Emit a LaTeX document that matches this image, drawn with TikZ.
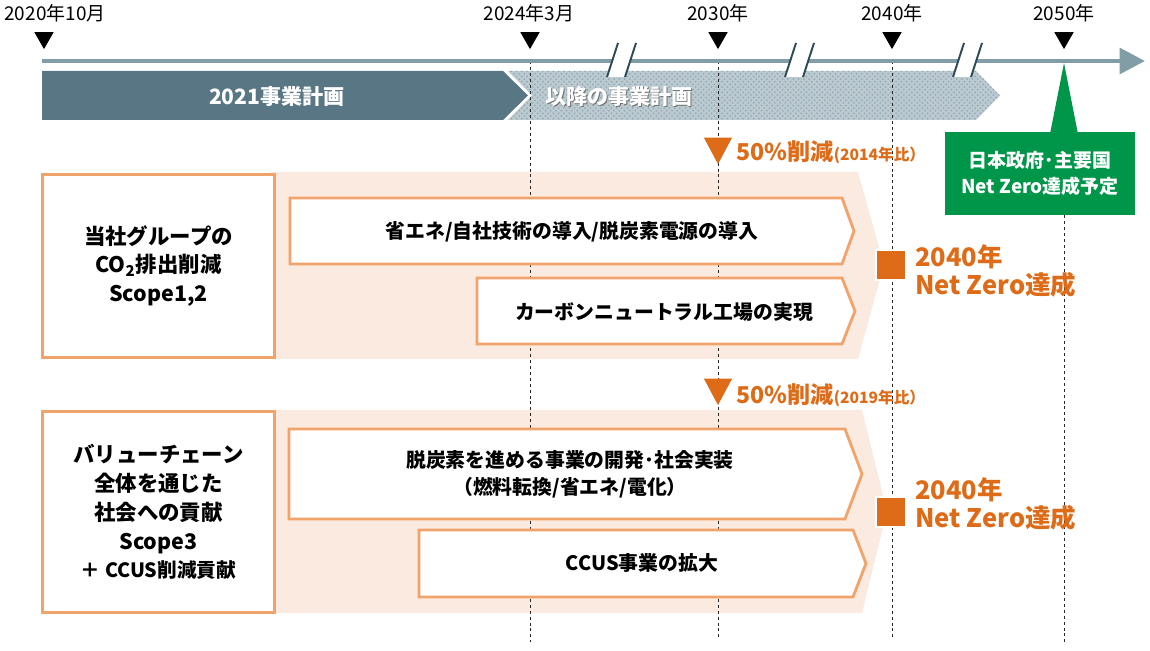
\documentclass[tikz,border=0pt]{standalone}
\usepackage{fontspec}
\setmainfont{Noto Sans CJK JP}
\usetikzlibrary{arrows.meta, positioning, shapes.geometric, patterns}
\definecolor{axisblue}{HTML}{819DA6}
\definecolor{plandark}{HTML}{587684}
\definecolor{planlight}{HTML}{BBCAD0}
\definecolor{plandots}{HTML}{8EA3AC}
\definecolor{breakline}{HTML}{2F4A57}
\definecolor{netorange}{HTML}{DD6B18}
\definecolor{boxedge}{HTML}{F1A36C}
\definecolor{peach}{HTML}{FBEADF}
\definecolor{govgreen}{HTML}{00964A}

\begin{document}
\begin{tikzpicture}[x=0.02cm, y=-0.02cm, line join=miter]
    \tikzstyle{yearmark}=[isosceles triangle, isosceles triangle stretches, shape border rotate=-90, fill=black, inner sep=0pt, minimum width=11pt, minimum height=9.6pt, anchor=apex]
    \tikzstyle{yearlabel}=[inner sep=0pt, font=\fontsize{10.8}{12}\selectfont]
    \tikzstyle{halfmark}=[isosceles triangle, isosceles triangle stretches, shape border rotate=-90, fill=netorange, inner sep=0pt, minimum width=16pt, minimum height=15pt, anchor=apex]
    \tikzstyle{halfcut}=[anchor=west, inner sep=0pt, text=netorange, font=\bfseries\fontsize{13.2}{15}\selectfont]
    \tikzstyle{netbox}=[fill=netorange, draw=white, line width=1.2pt, minimum size=17pt, inner sep=0pt]
    \tikzstyle{netzero}=[anchor=west, inner sep=0pt, align=left, text=netorange, font=\bfseries\fontsize{14.5}{16}\selectfont]
    \tikzstyle{band}=[fill=peach]
    \tikzstyle{chevron}=[draw=boxedge, fill=white, line width=1.6pt]
    \tikzstyle{scopebox}=[draw=boxedge, fill=white, line width=1.6pt, minimum width=4.64cm, align=center, font=\bfseries\fontsize{12.2}{16.4}\selectfont]
    \tikzstyle{action}=[align=center, font=\bfseries\fontsize{11.3}{15.3}\selectfont]
    \tikzstyle{dashline}=[black!85, line width=0.5pt, dash pattern=on 1.7pt off 1.7pt]

    \useasboundingbox (0,0) rectangle (1150,651);

    % peach backgrounds
    \fill[band] (270,172) -- (858,172) -- (884,265) -- (858,359) -- (270,359) -- cycle;
    \fill[band] (270,410) -- (862,410) -- (887,511) -- (862,613) -- (270,613) -- cycle;

    % plan bars
    \fill[planlight, postaction={pattern=crosshatch dots, pattern color=plandots}]
        (508,71) -- (976,71) -- (1000,95.5) -- (976,120) -- (508,120) -- (532,95.5) -- cycle;
    \fill[plandark] (42,71) -- (503,71) -- (528,95.5) -- (503,120) -- (42,120) -- cycle;
    \node[text=white, font=\bfseries\fontsize{12}{14}\selectfont] (p-1) at (277,97) {2021事業計画};
    \node[anchor=west, inner sep=0pt, text=black!55, font=\bfseries\fontsize{12}{14}\selectfont] at (546,98) {以降の事業計画};
    \node[anchor=west, inner sep=0pt, text=white, font=\bfseries\fontsize{12}{14}\selectfont] (p-2) at (545,97) {以降の事業計画};

    % time marks
    \foreach \x/\lx/\t [count=\i] in {44/55/2020年10月, 530/529/2024年3月, 718/718/2030年, 892/892/2040年, 1064/1064/2050年}{
        \node[yearmark] (m-\i) at (\x,50) {};
        \node[yearlabel] (y-\i) at (\lx,13) {\t};
    }
    \coordinate (t0) at (42,61);
    \coordinate (t1) at (1145,61);
    \foreach \i/\yb in {2/642, 3/637, 4/637}{
        \draw[dashline] (m-\i.apex |- t0) -- (m-\i.apex |- 0,\yb);
    }

    \draw[axisblue, line width=2.8pt, -{Triangle[length=14.5pt, width=14.5pt]}] (t0) -- (t1);
    \foreach \cx in {621, 799, 967}{
        \fill[white] (\cx-14,77) -- (\cx-3,43) -- (\cx+15,43) -- (\cx+4,77) -- cycle;
        \draw[breakline, line width=1.1pt] (\cx-14,77) -- (\cx-3,43);
        \draw[breakline, line width=1.1pt] (\cx+4,77) -- (\cx+15,43);
    }

    % government target
    \node[fill=govgreen, text=white, minimum width=3.8cm, minimum height=1.66cm, align=center, font=\bfseries\fontsize{10.8}{14.8}\selectfont] (gov) at (1040,173.5) {日本政府･主要国\\Net Zero達成予定};
    \coordinate (gov-tip) at (1064,63);
    \fill[govgreen] (gov-tip) -- (1050,134) -- (1078,134) -- cycle;
    \draw[dashline] (gov.south -| gov-tip) -- (1064,642);

    % scope 1,2
    \node[scopebox, minimum height=3.66cm] (s-1) at (158.5,266) {当社グループの\\CO\textsubscript{2}排出削減\\Scope1,2};
    \filldraw[chevron] (290,198) -- (842,198) -- (854,231) -- (842,264) -- (290,264) -- cycle;
    \filldraw[chevron] (477,278) -- (842,278) -- (855,311) -- (842,344) -- (477,344) -- cycle;
    \node[action] (a-1) at (572,232) {省エネ/自社技術の導入/脱炭素電源の導入};
    \node[action] (a-2) at (664,312) {カーボンニュートラル工場の実現};

    % scope 3
    \node[scopebox, minimum height=4.02cm] (s-2) at (158.5,512) {バリューチェーン\\全体を通じた\\社会への貢献\\Scope3\\{\fontsize{11.2}{16.4}\selectfont ＋ CCUS削減貢献}};
    \filldraw[chevron] (289,429) -- (845,429) -- (862,474) -- (845,519) -- (289,519) -- cycle;
    \filldraw[chevron] (419,530) -- (853,530) -- (866,563.5) -- (853,597) -- (419,597) -- cycle;
    \node[action] (a-3) at (570,474) {脱炭素を進める事業の開発･社会実装\\（燃料転換/省エネ/電化）};
    \node[action] (a-4) at (642,563) {CCUS事業の拡大};

    % milestones
    \node[halfmark] (h-1) at (718,165) {};
    \node[halfcut] (c-1) at (736,152) {50\%削減{\fontsize{8.9}{10}\selectfont (2014年比）}};
    \node[halfmark] (h-2) at (718,406) {};
    \node[halfcut] (c-2) at (736,395) {50\%削減{\fontsize{8.9}{10}\selectfont (2019年比）}};

    \node[netbox] (n-1) at (891,265) {};
    \node[netzero] (z-1) at (915,271) {2040年\\Net Zero達成};
    \node[netbox] (n-2) at (891,512) {};
    \node[netzero] (z-2) at (915,504) {2040年\\Net Zero達成};
\end{tikzpicture}
\end{document}
